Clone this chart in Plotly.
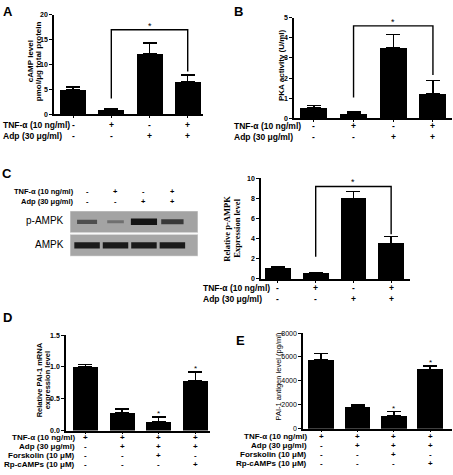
import plotly.graph_objects as go

W, H = 453, 475

# ---- data ----
groups = [0, 1, 2, 3]

camp_mean = [4.95, 1.0, 12.1, 6.5]
camp_top = [5.5, 1.1, 14.3, 7.9]
camp_sig = [3.2, 17.0, 8.6]          # left leg end, bracket top, right leg end

pka_mean = [0.53, 0.24, 3.53, 1.22]
pka_top = [0.64, 0.31, 4.18, 1.87]
pka_sig = [1.03, 4.6, 2.15]

pampk_mean = [1.05, 0.5, 8.0, 3.5]
pampk_top = [1.18, 0.6, 8.7, 4.2]
pampk_sig = [2.2, 9.2, 4.45]

mrna_mean = [1.0, 0.28, 0.14, 0.78]
mrna_top = [1.04, 0.34, 0.21, 0.92]

antigen_mean = [5730, 1830, 1080, 4960]
antigen_top = [6300, 2000, 1420, 5230]

# blot band intensity (0..1) per lane
pampk_band = [0.55, 0.3, 1.0, 0.72]
ampk_band = [0.95, 0.95, 0.95, 0.95]

tnf = ['-', '+', '-', '+']
adp = ['-', '-', '+', '+']
tnf_de = ['+', '+', '+', '+']
adp_de = ['-', '+', '+', '+']
forskolin = ['-', '-', '+', '-']
rpcamps = ['-', '-', '-', '+']

SANS = 'Liberation Sans'
SERIF = 'Liberation Serif'


def fx(p):
    return p / W


def fy(p):
    return 1 - p / H


fig = go.Figure()
layout = {}
annotations = []


def setup_axes(n, xpx, ypx, xrange, yrange, dtick, tickfmt=None, bold=True):
    s = '' if n == 1 else str(n)
    layout['xaxis' + s] = dict(
        domain=[fx(xpx[0]), fx(xpx[1])], range=xrange, anchor='y' + s,
        showline=True, linecolor='black', linewidth=1.5, ticks='outside',
        ticklen=2, tickwidth=1.2, tickcolor='black', tickvals=groups,
        showticklabels=False, showgrid=False, zeroline=False)
    layout['yaxis' + s] = dict(
        domain=[fy(ypx[1]), fy(ypx[0])], range=yrange, anchor='x' + s,
        showline=True, linecolor='black', linewidth=1.5, ticks='outside',
        ticklen=3, tickwidth=1.2, tickcolor='black', dtick=dtick,
        tickformat=tickfmt, showgrid=False, zeroline=False,
        tickfont=dict(family=SANS, size=7, color='black',
                      weight='bold' if bold else 'normal'))


def add_bars(n, mean, top, width):
    s = '' if n == 1 else str(n)
    fig.add_trace(go.Bar(
        x=groups, y=mean, width=width, xaxis='x' + s, yaxis='y' + s,
        marker=dict(color='black', line=dict(width=0)),
        error_y=dict(type='data', symmetric=False,
                     array=[t - m for t, m in zip(top, mean)],
                     arrayminus=[0] * 4, color='black', thickness=1.5, width=7),
        showlegend=False, hoverinfo='skip'))


def add_bracket(n, sig):
    s = '' if n == 1 else str(n)
    fig.add_trace(go.Scatter(
        x=[1, 1, 3, 3], y=[sig[0], sig[1], sig[1], sig[2]], mode='lines',
        line=dict(color='black', width=1.4), xaxis='x' + s, yaxis='y' + s,
        showlegend=False, hoverinfo='skip'))
    annotations.append(dict(x=2, y=sig[1], xref='x' + s, yref='y' + s,
                            text='*', showarrow=False, xanchor='center',
                            yanchor='bottom', yshift=-3,
                            font=dict(family=SANS, size=9, color='black')))


def add_star(n, xi, yv):
    s = '' if n == 1 else str(n)
    annotations.append(dict(x=xi, y=yv, xref='x' + s, yref='y' + s, text='*',
                            showarrow=False, xanchor='center', yanchor='bottom',
                            yshift=-3, font=dict(family=SANS, size=8, color='black')))


def add_rows(n, rows, ypx, label_x, anchor, size=8.5):
    s = '' if n == 1 else str(n)
    for (label, signs), yp in zip(rows, ypx):
        annotations.append(dict(x=fx(label_x), y=fy(yp), xref='paper', yref='paper',
                                text='<b>%s</b>' % label, showarrow=False,
                                xanchor=anchor, yanchor='middle',
                                font=dict(family=SANS, size=size, color='black')))
        for g, sg in zip(groups, signs):
            annotations.append(dict(x=g, y=fy(yp), xref='x' + s, yref='paper',
                                    text='<b>%s</b>' % sg, showarrow=False,
                                    xanchor='center', yanchor='middle',
                                    font=dict(family=SANS, size=size, color='black')))


def ytitle(lines, xps, yp, size=8, family=SANS, bold=True):
    # one annotation per line so the line spacing can be kept tight
    for text, xp in zip(lines, xps):
        annotations.append(dict(x=fx(xp), y=fy(yp), xref='paper', yref='paper',
                                text=('<b>%s</b>' % text) if bold else text,
                                textangle=-90, showarrow=False,
                                xanchor='center', yanchor='middle',
                                font=dict(family=family, size=size, color='black')))


def letter(t, xp, yp):
    annotations.append(dict(x=fx(xp), y=fy(yp), xref='paper', yref='paper',
                            text='<b>%s</b>' % t, showarrow=False,
                            xanchor='center', yanchor='middle',
                            font=dict(family=SANS, size=13, color='black')))


# ---- A: cAMP ----
setup_axes(1, (54, 203), (11, 112), [-0.5, 3.4], [0, 20], 5)
add_bars(1, camp_mean, camp_top, 0.68)
add_bracket(1, camp_sig)
add_rows(1, [('TNF-α (10 ng/ml)', tnf), ('Adp (30 μg/ml)', adp)], [123, 134], 1, 'left')
ytitle(['cAMP level', 'pmol/μg total protein'], [30, 38], 58)
letter('A', 8, 8)

# ---- B: PKA ----
setup_axes(2, (294, 452), (14, 116), [-0.5, 3.48], [0, 5], 1)
add_bars(2, pka_mean, pka_top, 0.68)
add_bracket(2, pka_sig)
add_rows(2, [('TNF-α (10 ng/ml)', tnf), ('Adp (30 μg/ml)', adp)], [124, 135], 232, 'left')
ytitle(['PKA activity (U/ml)'], [281], 62)
letter('B', 238, 8)

# ---- C: western blot ----
layout['xaxis3'] = dict(domain=[fx(70), fx(198)], range=[-0.6, 3.9], anchor='y3',
                        visible=False, fixedrange=True)
layout['yaxis3'] = dict(domain=[fy(256), fy(210)], range=[0, 2], anchor='x3',
                        visible=False, fixedrange=True)
shapes = [
    dict(type='rect', xref='x3', yref='y3', x0=-0.6, x1=3.9, y0=1.04, y1=2,
         fillcolor='#a3a3a3', line=dict(color='#d8d8d8', width=1), layer='below'),
    dict(type='rect', xref='x3', yref='y3', x0=-0.6, x1=3.9, y0=0, y1=0.96,
         fillcolor='#a6a6a6', line=dict(color='#d8d8d8', width=1), layer='below'),
]
for row_y, bands in [(1.52, pampk_band), (0.48, ampk_band)]:
    for g, b in zip(groups, bands):
        half = 0.22 + 0.24 * b
        shade = int(150 - 130 * b)
        fig.add_trace(go.Scatter(
            x=[g - half, g + half], y=[row_y, row_y], mode='lines',
            line=dict(color='rgb(%d,%d,%d)' % (shade, shade, shade), width=1.5 + 5 * b),
            xaxis='x3', yaxis='y3', showlegend=False, hoverinfo='skip'))
blot_rows = [('TNF-α (10 ng/ml)', tnf), ('Adp (30 μg/ml)', adp)]
for (label, signs), yp in zip(blot_rows, [190, 200]):
    annotations.append(dict(x=fx(76), y=fy(yp), xref='paper', yref='paper',
                            text='<b>%s</b>' % label, showarrow=False,
                            xanchor='right', yanchor='middle',
                            font=dict(family=SANS, size=7.5, color='black')))
    for g, sg in zip(groups, signs):
        annotations.append(dict(x=g, y=fy(yp), xref='x3', yref='paper',
                                text='<b>%s</b>' % sg, showarrow=False,
                                xanchor='center', yanchor='middle',
                                font=dict(family=SANS, size=7.5, color='black')))
for lab, yp in [('p-AMPK', 220), ('AMPK', 244)]:
    annotations.append(dict(x=fx(66), y=fy(yp), xref='paper', yref='paper',
                            text=lab, showarrow=False, xanchor='right',
                            yanchor='middle',
                            font=dict(family=SANS, size=10, color='black')))
letter('C', 7, 172)

# ---- C: p-AMPK quantification ----
setup_axes(4, (261, 410), (177, 279), [-0.45, 3.5], [0, 10], 2)
add_bars(4, pampk_mean, pampk_top, 0.68)
add_bracket(4, pampk_sig)
add_rows(4, [('TNF-α (10 ng/ml)', tnf), ('Adp (30 μg/ml)', adp)], [288, 299], 201, 'left')
ytitle(['Relative p-AMPK', 'Expression level'], [227, 237], 228, size=8.5, family=SERIF)

# ---- D: PAI-1 mRNA ----
rows_de = [('TNF-α (10 ng/ml)', tnf_de), ('Adp (30 μg/ml)', adp_de),
           ('Forskolin (10 μM)', forskolin), ('Rp-cAMPs (10 μM)', rpcamps)]
setup_axes(5, (66, 210), (336, 433), [-0.53, 3.4], [0, 1.5], 0.5, '.1f')
add_bars(5, mrna_mean, mrna_top, 0.68)
add_star(5, 2, mrna_top[2])
add_star(5, 3, mrna_top[3])
add_rows(5, rows_de, [440, 449, 458, 467], 77, 'right', size=8)
ytitle(['Relative PAI-1 mRNA', 'expression level'], [39, 47], 382, size=7.5)
letter('D', 7, 318)

# ---- E: PAI-1 antigen ----
setup_axes(6, (303, 452), (334, 431), [-0.5, 3.6], [0, 8000], 2000, bold=False)
add_bars(6, antigen_mean, antigen_top, 0.7)
add_star(6, 2, antigen_top[2])
add_star(6, 3, antigen_top[3])
add_rows(6, rows_de, [439, 448, 457, 466], 309, 'right', size=8)
ytitle(['PAI-1 antigen level (pg/ml)'], [278], 378, size=7.5, bold=False)
letter('E', 240, 342)

fig.update_layout(
    width=W, height=H, margin=dict(l=0, r=0, t=0, b=0),
    paper_bgcolor='white', plot_bgcolor='rgba(0,0,0,0)',
    showlegend=False, bargap=0, annotations=annotations, shapes=shapes,
    **layout)

# the page body has a default 8px margin; drop it so the figure sits at 0,0
fig.write_html("out.html", config={'displayModeBar': False},
               post_script="document.body.style.margin='0';")
